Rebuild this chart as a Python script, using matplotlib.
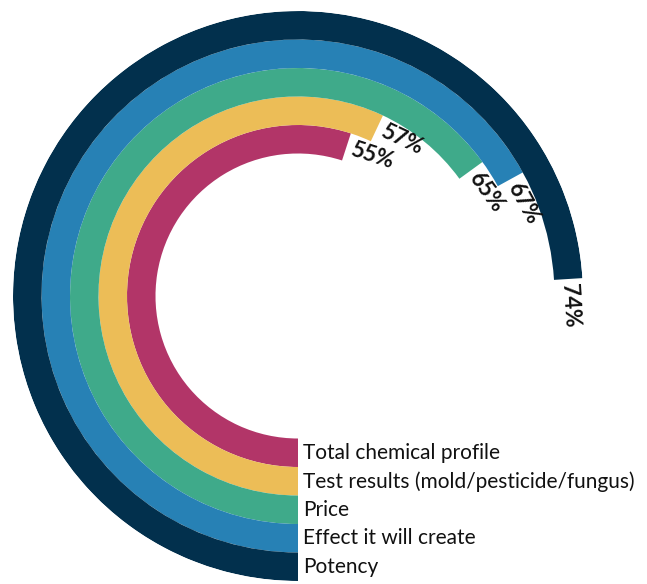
import numpy as np
import matplotlib
matplotlib.use("Agg")
import matplotlib.pyplot as plt

# Ring data, innermost first
categories = ["Total chemical profile",
              "Test results (mold/pesticide/fungus)",
              "Price",
              "Effect it will create",
              "Potency"]
values = [55, 57, 65, 67, 74]  # percent
colors = ["#B23568", "#ECBD57", "#3FAA8A", "#2781B5", "#02304D"]

hole = 5.0       # radius of the empty centre, in ring widths
ring_w = 1.0

plt.rcParams["font.family"] = ["Lato", "DejaVu Sans"]

fig = plt.figure(figsize=(6.47, 5.84), dpi=100)
W, H = 647, 584
cx, cy, R = 298, 296, 285
ax = fig.add_axes([(cx - R) / W, (H - cy - R) / H, 2 * R / W, 2 * R / H],
                  projection="polar")
ax.set_theta_zero_location("S")
ax.set_theta_direction(-1)
ax.set_ylim(0, hole + ring_w * len(values))
ax.set_axis_off()

px_per_unit = R / (hole + ring_w * len(values))

for i, (cat, val, col) in enumerate(zip(categories, values, colors)):
    bottom = hole + i * ring_w
    theta_end = val / 100 * 2 * np.pi
    ax.bar(0, ring_w, width=theta_end, bottom=bottom, align="edge",
           color=col, linewidth=0, antialiased=True)

    r_mid = bottom + ring_w / 2
    # value label, written along the ring just past its end
    gap = 5 / (r_mid * px_per_unit)
    t = theta_end + gap
    rot = -180 - np.degrees(theta_end)
    rot = (rot + 180) % 360 - 180
    ax.text(t, r_mid, f"{val}%", rotation=rot, rotation_mode="anchor",
            ha="left", va="center", fontsize=16, fontweight="bold",
            color="#111111")

    # category name beside the ring's starting edge
    ax.annotate(cat, xy=(0, r_mid), xytext=(3.5, 0),
                textcoords="offset points", ha="left", va="center",
                fontsize=15, color="#111111", annotation_clip=False)

fig.savefig("out.png", dpi=100, facecolor="white")
